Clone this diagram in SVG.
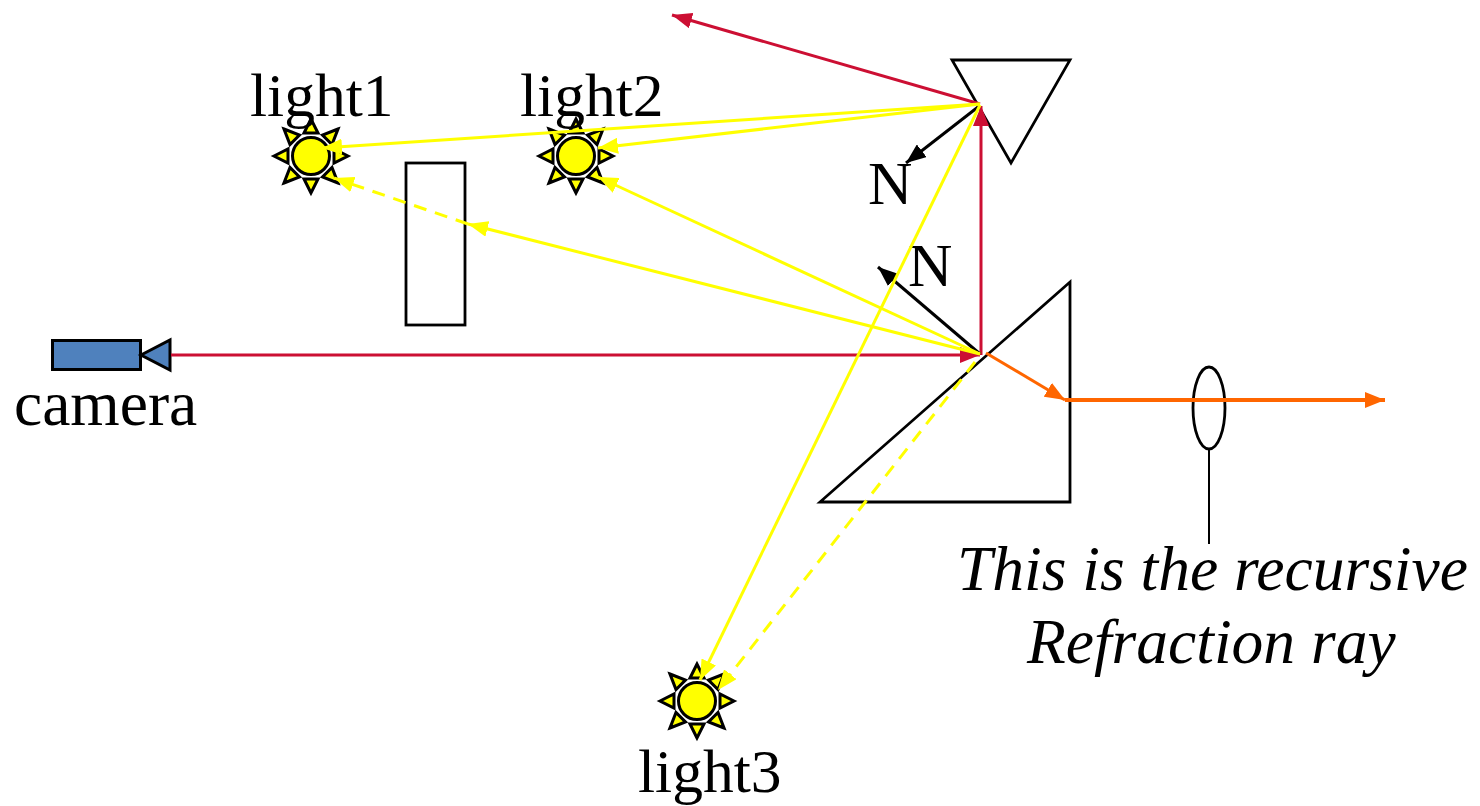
<svg xmlns="http://www.w3.org/2000/svg" width="1480" height="806" viewBox="0 0 1480 806">
<style>
text{font-family:"Liberation Serif","Times New Roman",serif;font-size:61.500px;fill:#000}
.big{font-size:63.500px}
.it{font-style:italic}
.sh{fill:none;stroke:#000;stroke-width:2.800}
.ln{fill:none;stroke-width:3}
.red{stroke:#cc0f33}.yel{stroke:#ffff00}.blk{stroke:#000}.org{stroke:#ff6600}
.thick{stroke-width:4px}
.dash{stroke-dasharray:13 9}
.ray{fill:#ffff00;stroke:#000;stroke-width:3;stroke-linejoin:miter}
</style>
<defs>
<marker id="ar" viewBox="0 0 20 16" refX="20" refY="8" markerWidth="20" markerHeight="16" markerUnits="userSpaceOnUse" orient="auto"><path d="M0 0L20 8L0 16Z" fill="#cc0f33"/></marker>
<marker id="ay" viewBox="0 0 20 16" refX="20" refY="8" markerWidth="20" markerHeight="16" markerUnits="userSpaceOnUse" orient="auto"><path d="M0 0L20 8L0 16Z" fill="#ffff00"/></marker>
<marker id="ak" viewBox="0 0 20 16" refX="20" refY="8" markerWidth="20" markerHeight="16" markerUnits="userSpaceOnUse" orient="auto"><path d="M0 0L20 8L0 16Z" fill="#000"/></marker>
<marker id="ao" viewBox="0 0 20 16" refX="20" refY="8" markerWidth="20" markerHeight="16" markerUnits="userSpaceOnUse" orient="auto"><path d="M0 0L20 8L0 16Z" fill="#ff6600"/></marker>
<g id="sun">
<circle r="18.500" fill="#ffff00" stroke="#000" stroke-width="3"/>
<path class="ray" d="M0 -37L-7 -23L7 -23Z"/>
<path class="ray" d="M0 37L-7 23L7 23Z"/>
<path class="ray" d="M37 0L23 -7L23 7Z"/>
<path class="ray" d="M-37 0L-23 -7L-23 7Z"/>
<path class="ray" d="M27 -27L11.500 -21L21 -11.500Z"/>
<path class="ray" d="M-27 -27L-11.500 -21L-21 -11.500Z"/>
<path class="ray" d="M27 27L11.500 21L21 11.500Z"/>
<path class="ray" d="M-27 27L-11.500 21L-21 11.500Z"/>
</g>
</defs>
<g id="prism-top"><path class="sh" d="M952 60H1070L1011 163Z"/></g>
<g id="prism-bottom"><path class="sh" d="M1070 282V502H820Z"/></g>
<g id="blocker"><rect class="sh" x="406" y="163" width="59" height="162"/></g>
<g id="camera"><rect x="52.500" y="340.500" width="88" height="29" fill="#4f81bd" stroke="#000" stroke-width="3"/><path d="M141 355L170 340V370Z" fill="#4f81bd" stroke="#000" stroke-width="3"/><text class="big" x="14" y="425">camera</text></g>
<g id="light1"><use href="#sun" x="311" y="156"/><text x="250" y="116">light1</text></g>
<g id="light2"><use href="#sun" x="576" y="156"/><text x="520" y="116">light2</text></g>
<g id="light3"><use href="#sun" x="697" y="701"/><text x="638" y="792">light3</text></g>
<g id="lens-label"><ellipse class="sh" cx="1209" cy="408" rx="16" ry="41"/><path class="sh" d="M1209 449V544" style="stroke-width:2px"/><text class="it big" x="957" y="590">This is the recursive</text><text class="it big" x="1027" y="663">Refraction ray</text></g>
<g id="n1"><text x="868" y="204">N</text></g>
<g id="n2"><text x="908" y="286">N</text></g>
<g id="connectors">
<path class="ln red" d="M171 355H980" marker-end="url(#ar)"/>
<path class="ln red" d="M981 355V106" marker-end="url(#ar)"/>
<path class="ln red" d="M980 104L672 15" marker-end="url(#ar)"/>
<path class="ln blk" d="M978 107L906 163" marker-end="url(#ak)"/>
<path class="ln blk" d="M980 354L878 267" marker-end="url(#ak)"/>
<path class="ln org" d="M986 353L1065 400" marker-end="url(#ao)"/>
<path class="ln org thick" d="M1065 400H1385" marker-end="url(#ao)"/>
<path class="ln yel" d="M980 104L322 148" marker-end="url(#ay)"/>
<path class="ln yel" d="M980 104L598 148" marker-end="url(#ay)"/>
<path class="ln yel" d="M980 105L700 680" marker-end="url(#ay)"/>
<path class="ln yel" d="M980 354L598 177" marker-end="url(#ay)"/>
<path class="ln yel" d="M980 354L468 224" marker-end="url(#ay)"/>
<path class="ln yel dash" d="M468 224L334 178" marker-end="url(#ay)"/>
<path class="ln yel dash" d="M975 362L718 690" marker-end="url(#ay)"/>
</g>
</svg>
